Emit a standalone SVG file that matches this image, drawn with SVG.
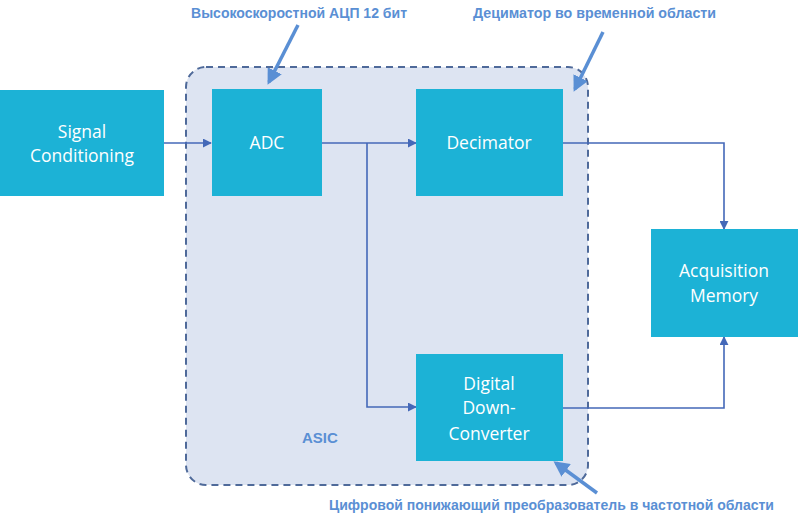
<svg xmlns="http://www.w3.org/2000/svg" width="800" height="529" viewBox="0 0 800 529">
<defs>
<style>
.box{fill:#1cb2d6;}
.lbl{font-family:"Open Sans","Noto Sans",sans-serif;font-size:17.5px;fill:#ffffff;text-anchor:middle;}
.ann{font-family:"Liberation Sans",Arial,sans-serif;font-size:14px;font-weight:bold;fill:#5a8fd4;}
.conn{fill:none;stroke:#4468b8;stroke-width:1.6;}
.callout{stroke:#5a8fd4;stroke-width:3.5;fill:none;}
</style>
<marker id="ah" viewBox="0 0 10 10" refX="9" refY="5" markerWidth="9" markerHeight="9" markerUnits="userSpaceOnUse" orient="auto">
<path d="M0,0 L10,5 L0,10 z" fill="#4468b8"/>
</marker>
<marker id="ah2" viewBox="0 0 10 10" refX="8" refY="5" markerWidth="4.5" markerHeight="4.5" orient="auto">
<path d="M0,0 L10,5 L0,10 z" fill="#5a8fd4"/>
</marker>
</defs>
<rect width="800" height="529" fill="#ffffff"/>
<g id="asic">
<rect x="186" y="67" width="402" height="418" rx="20" ry="20" fill="#dde4f2" stroke="#4f6a9a" stroke-width="2" stroke-dasharray="7,5"/>
<text x="302" y="443" font-family="Liberation Sans,Arial,sans-serif" font-size="15" font-weight="bold" fill="#5a8fd4">ASIC</text>
</g>
<g id="connectors">
<line class="conn" x1="164" y1="143" x2="211" y2="143" marker-end="url(#ah)"/>
<line class="conn" x1="322" y1="143" x2="416" y2="143" marker-end="url(#ah)"/>
<polyline class="conn" points="367,143 367,407 416,407" marker-end="url(#ah)"/>
<polyline class="conn" points="563,143 724,143 724,229" marker-end="url(#ah)"/>
<polyline class="conn" points="563,408 724,408 724,337" marker-end="url(#ah)"/>
</g>
<g id="signal-conditioning">
<rect class="box" x="0" y="90" width="164" height="106"/>
<text class="lbl" x="82" y="138">Signal</text>
<text class="lbl" x="82" y="162">Conditioning</text>
</g>
<g id="adc">
<rect class="box" x="212" y="89" width="110" height="107"/>
<text class="lbl" x="267" y="149">ADC</text>
</g>
<g id="decimator">
<rect class="box" x="416" y="89" width="147" height="107"/>
<text class="lbl" x="489" y="149">Decimator</text>
</g>
<g id="ddc">
<rect class="box" x="416" y="354" width="147" height="107"/>
<text class="lbl" x="489" y="390">Digital</text>
<text class="lbl" x="489" y="414">Down-</text>
<text class="lbl" x="489" y="440">Converter</text>
</g>
<g id="acquisition-memory">
<rect class="box" x="651" y="229" width="147" height="108"/>
<text class="lbl" x="724" y="277">Acquisition</text>
<text class="lbl" x="724" y="302">Memory</text>
</g>
<g id="annotations">
<text class="ann" x="191" y="18" textLength="216" lengthAdjust="spacingAndGlyphs">Высокоскоростной АЦП 12 бит</text>
<line class="callout" x1="298" y1="25" x2="269" y2="82" marker-end="url(#ah2)"/>
<text class="ann" x="473" y="18" textLength="243" lengthAdjust="spacingAndGlyphs">Дециматор во временной области</text>
<line class="callout" x1="603" y1="32" x2="575" y2="89" marker-end="url(#ah2)"/>
<text class="ann" x="329" y="510" textLength="445" lengthAdjust="spacingAndGlyphs">Цифровой понижающий преобразователь в частотной области</text>
<line class="callout" x1="597" y1="493" x2="556" y2="463" marker-end="url(#ah2)"/>
</g>
</svg>
